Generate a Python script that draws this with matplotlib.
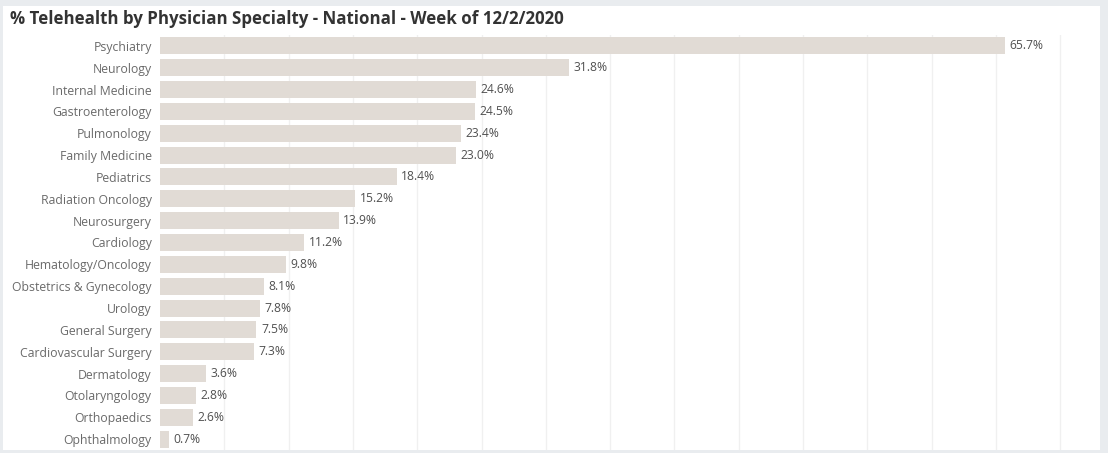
import matplotlib.pyplot as plt
from matplotlib.patches import Rectangle

specialties = ["Psychiatry", "Neurology", "Internal Medicine", "Gastroenterology",
               "Pulmonology", "Family Medicine", "Pediatrics", "Radiation Oncology",
               "Neurosurgery", "Cardiology", "Hematology/Oncology",
               "Obstetrics & Gynecology", "Urology", "General Surgery",
               "Cardiovascular Surgery", "Dermatology", "Otolaryngology",
               "Orthopaedics", "Ophthalmology"]
pct = [65.7, 31.8, 24.6, 24.5, 23.4, 23.0, 18.4, 15.2, 13.9, 11.2,
       9.8, 8.1, 7.8, 7.5, 7.3, 3.6, 2.8, 2.6, 0.7]
grid_ticks = [0, 5, 10, 15, 20, 25, 30, 35, 40, 45, 50, 55, 60, 65, 70]

plt.rcParams['font.family'] = ['Open Sans', 'DejaVu Sans']

W, H = 1108, 453
fig = plt.figure(figsize=(W / 100, H / 100), dpi=100, facecolor='#e9ecef')
# white panel behind the chart
fig.patches.append(Rectangle((3 / W, 1 - 450 / H), 1097 / W, 444 / H,
                             transform=fig.transFigure, facecolor='white',
                             edgecolor='none', zorder=-10))

left, right = 160, 1100
ax = fig.add_axes([left / W, 1 - 450 / H, (right - left) / W, (450 - 35) / H])
ax.set_facecolor('none')

y = list(range(len(specialties)))
ax.barh(y, pct, height=0.78, color='#e1dbd5', zorder=2)
ax.set_xlim(0, (right - left) / 12.86)
ax.set_ylim(len(specialties) - 0.5, -0.5)

for v in grid_ticks[1:]:
    ax.axvline(v, color='#f0f0f0', lw=1, zorder=1)

for i, v in enumerate(pct):
    ax.text(v + 0.35, i, f"{v:.1f}%", va='center', ha='left', fontsize=8.7,
            color='#505050')

ax.set_yticks(y)
ax.set_yticklabels(specialties, fontsize=8.8, color='#6a6a6a')
ax.tick_params(axis='y', length=0, pad=6)
ax.set_xticks([])
for s in ax.spines.values():
    s.set_visible(False)

fig.text(10 / W, 1 - 19 / H, "% Telehealth by Physician Specialty - National - Week of 12/2/2020",
         fontsize=12.2, fontweight='bold', color='#333333', va='center', ha='left')

fig.savefig('out.png', dpi=100, facecolor=fig.get_facecolor())
